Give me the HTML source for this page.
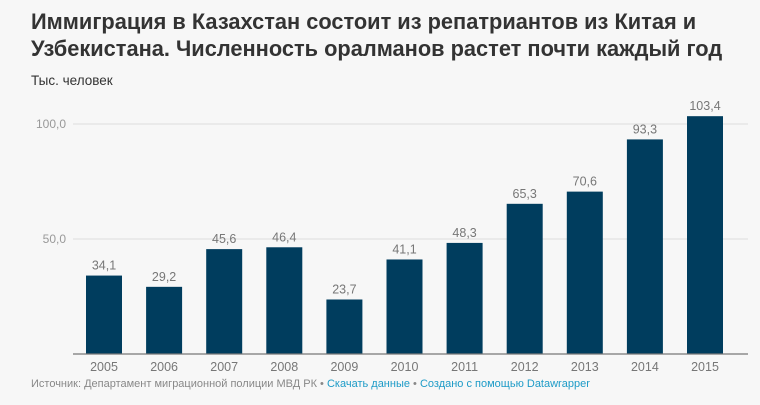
<!DOCTYPE html>
<html><head><meta charset="utf-8"><style>
body{margin:0;background:#f7f7f7;width:760px;height:400px;overflow:hidden;font-family:"Liberation Sans",sans-serif}
</style></head><body>
<svg width="760" height="400" xmlns="http://www.w3.org/2000/svg" font-family="Liberation Sans, sans-serif">
<rect width="760" height="400" fill="#f7f7f7"/>
<text x="31" y="29" font-size="21.8" font-weight="bold" fill="#333">Иммиграция в Казахстан состоит из репатриантов из Китая и</text>
<text x="31" y="56" font-size="21.8" font-weight="bold" fill="#333">Узбекистана. Численность оралманов растет почти каждый год</text>
<text x="31" y="85" font-size="13.5" fill="#333">Тыс. человек</text>
<g font-size="12" fill="#999" text-anchor="end">
<text x="66" y="128">100,0</text>
<text x="66" y="243">50,0</text>
</g>
<line x1="73" y1="124" x2="748" y2="124" stroke="#ddd"/>
<line x1="73" y1="239" x2="748" y2="239" stroke="#ddd"/>
<g fill="#003d5e" id="bars"></g>
<line x1="73" y1="354" x2="748" y2="354" stroke="#777" stroke-width="1.2"/>
<g id="labels" font-size="12.5" fill="#777" text-anchor="middle"></g>
<text x="31" y="387" font-size="11" fill="#888">Источник: Департамент миграционной полиции МВД РК • <tspan fill="#1d9bc7">Скачать данные</tspan> • <tspan fill="#1d9bc7">Создано с помощью Datawrapper</tspan></text>
<script>
var v=[34.1,29.2,45.6,46.4,23.7,41.1,48.3,65.3,70.6,93.3,103.4];
var b=document.getElementById('bars'),l=document.getElementById('labels'),ns='http://www.w3.org/2000/svg';
v.forEach(function(d,i){var cx=104+i*60.1,h=d*2.3;
var r=document.createElementNS(ns,'rect');r.setAttribute('x',cx-18);r.setAttribute('y',354-h);r.setAttribute('width',36);r.setAttribute('height',h);b.appendChild(r);
var t=document.createElementNS(ns,'text');t.setAttribute('x',cx);t.setAttribute('y',354-h-6);t.textContent=String(d).replace('.',',');l.appendChild(t);
var y=document.createElementNS(ns,'text');y.setAttribute('x',cx);y.setAttribute('y',371);y.textContent=2005+i;l.appendChild(y);});
</script>
</svg>
</body></html>
